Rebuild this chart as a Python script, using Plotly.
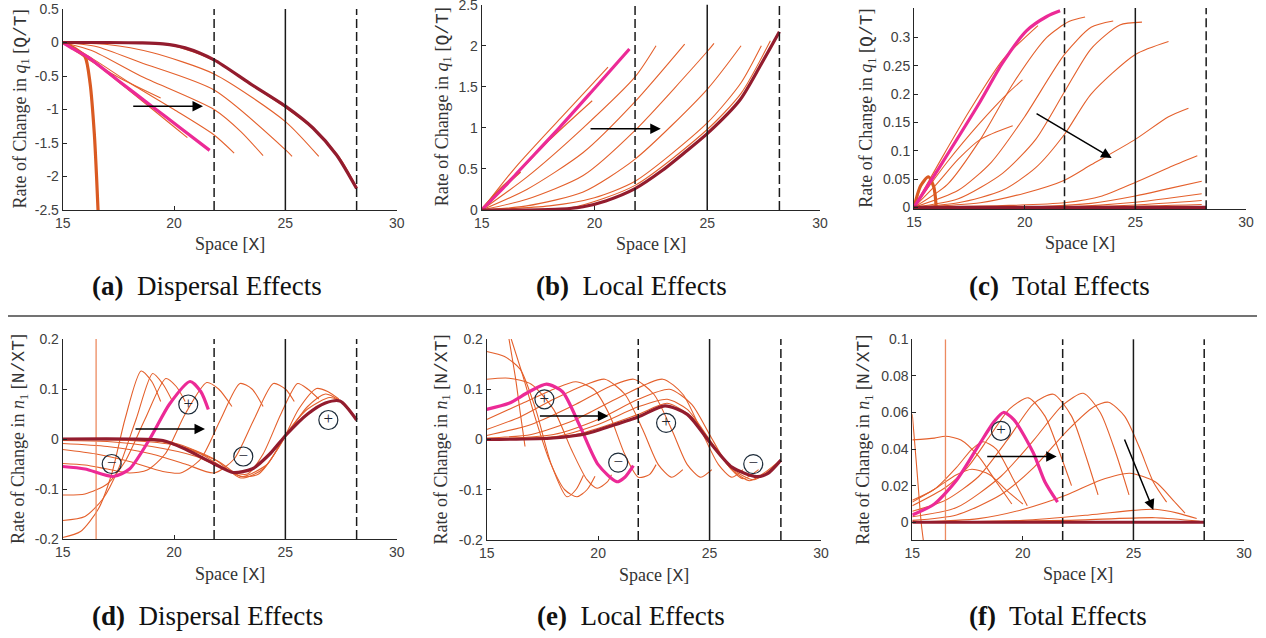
import plotly.graph_objects as go

# ---------------- DATA ----------------
REF_DASHED = [21.8, 28.2]
REF_SOLID = [25.0]

# (a) Dispersal effects, q1
A_DARK_X = [15, 17, 18.5, 19.5, 20.5, 21.8, 23.4, 25.0, 26.25, 27.3, 28.2]
A_DARK_Y = [0, 0, -0.005, -0.02, -0.08, -0.26, -0.61, -0.95, -1.28, -1.68, -2.18]
A_PINK_X = [15, 15.5, 16.1, 17.5, 19.0, 20.3, 21.6]
A_PINK_Y = [0, -0.1, -0.21, -0.57, -0.95, -1.28, -1.61]
A_THICK_X = [15, 15.5, 16.0, 16.23, 16.42, 16.52, 16.6]
A_THICK_Y = [0, -0.08, -0.21, -0.61, -1.36, -2.0, -2.6]
A_THIN_X = [
    [15, 16, 17.5, 19.4],
    [15, 16, 18, 20.6],
    [15, 16, 18, 20, 21.8, 22.7],
    [15, 16.3, 18.5, 21.8, 23.0, 24.0],
    [15, 16.5, 18.5, 21.8, 25.0, 25.3],
    [15, 17, 19, 21.8, 25.0, 26.5],
    [15, 18, 20, 21.8, 23.4, 25.0, 26.5, 27.5, 28.2],
]
A_THIN_Y = [
    [0, -0.22, -0.52, -0.83],
    [0, -0.2, -0.72, -1.42],
    [0, -0.17, -0.6, -1.0, -1.38, -1.65],
    [0, -0.12, -0.5, -1.0, -1.33, -1.69],
    [0, -0.06, -0.3, -0.71, -1.6, -1.7],
    [0, -0.03, -0.15, -0.47, -1.18, -1.7],
    [0, 0, -0.05, -0.27, -0.62, -0.97, -1.36, -1.75, -2.16],
]

# (b) Local effects, q1
B_DARK_X = [15, 17, 18.5, 19.5, 20.5, 21.8, 23.0, 24.0, 25.0, 26.45, 27.34, 28.2]
B_DARK_Y = [0, 0, 0.01, 0.04, 0.11, 0.26, 0.48, 0.7, 0.93, 1.34, 1.75, 2.17]
B_PINK_X = [15, 16.0, 16.7, 18.47, 20.0, 21.55]
B_PINK_Y = [0, 0.28, 0.49, 1.01, 1.48, 1.96]
B_THICK_X = [15, 15.8, 16.7]
B_THICK_Y = [0, 0.24, 0.47]
B_THIN_X = [
    [15, 16.5, 18.5, 20.6],
    [15, 16.5, 18, 19.9],
    [15, 17, 19.5, 21.8, 22.73],
    [15, 17, 19.5, 21.8, 24.0],
    [15, 17, 19.5, 21.8, 25.0, 25.3],
    [15, 17, 19.5, 21.8, 25.0, 26.5],
    [15, 18, 20, 21.8, 25.0, 26.5, 27.4],
    [15, 19, 21.8, 25.0, 26.5, 27.8],
]
B_THIN_Y = [
    [0, 0.52, 1.12, 1.74],
    [0, 0.42, 0.85, 1.33],
    [0, 0.4, 1.0, 1.62, 2.0],
    [0, 0.25, 0.7, 1.32, 2.02],
    [0, 0.13, 0.42, 0.97, 1.93, 2.03],
    [0, 0.05, 0.22, 0.62, 1.47, 2.0],
    [0, 0.05, 0.15, 0.35, 1.06, 1.55, 2.0],
    [0, 0.03, 0.3, 0.98, 1.42, 2.06],
]

# (c) Total effects, q1
C_DARK_X = [15, 20, 25, 28.2]
C_DARK_Y = [0, 0, 0, 0]
C_PINK_X = [15, 16.17, 17.98, 19.0, 20.09, 21.0, 21.6]
C_PINK_Y = [0, 0.072, 0.186, 0.255, 0.312, 0.337, 0.347]
C_THICK_X = [15, 15.3, 15.65, 15.9, 16.02]
C_THICK_Y = [0, 0.038, 0.054, 0.035, -0.011]
C_THIN_X = [
    [15, 16.3, 17.5, 19, 20.6],
    [15, 16.5, 18, 19.2, 19.9],
    [15, 16, 17, 18, 19.46],
    [15, 16.5, 18, 19.5, 21, 22, 22.73],
    [15, 17, 18.5, 20, 21.8, 23, 24],
    [15, 17, 19, 20.5, 21.8, 23, 24.3, 25.3],
    [15, 17, 19, 20.5, 21.8, 23, 25, 26.5],
    [15, 18, 20, 21.8, 23, 25, 26.5, 27.4],
    [15, 19, 21.8, 23.5, 25, 26.5, 27.8],
    [15, 21, 23, 25, 26.5, 28],
    [15, 22, 25, 26.5, 28],
    [15, 23, 25, 28],
    [15, 24, 28],
]
C_THIN_Y = [
    [0, 0.09, 0.17, 0.26, 0.321],
    [0, 0.08, 0.15, 0.2, 0.225],
    [0, 0.04, 0.085, 0.12, 0.144],
    [0, 0.04, 0.12, 0.22, 0.30, 0.328, 0.336],
    [0, 0.03, 0.08, 0.16, 0.27, 0.318, 0.329],
    [0, 0.015, 0.06, 0.12, 0.204, 0.28, 0.322, 0.327],
    [0, 0.008, 0.03, 0.07, 0.129, 0.2, 0.27, 0.293],
    [0, 0.008, 0.025, 0.048, 0.075, 0.12, 0.16, 0.175],
    [0, 0.003, 0.008, 0.02, 0.044, 0.07, 0.091],
    [0, 0.002, 0.007, 0.02, 0.033, 0.046],
    [0, 0.001, 0.009, 0.016, 0.024],
    [0, 0.001, 0.004, 0.012],
    [0, 0.001, 0.005],
]

# (d) Dispersal effects, n1
D_DARK_X = [15, 18, 19.5, 20.5, 21.77, 22.66, 23.5, 24.3, 25.03, 26.0, 26.8, 27.45, 28.2]
D_DARK_Y = [0, 0, -0.003, -0.02, -0.049, -0.067, -0.06, -0.03, 0.008, 0.05, 0.072, 0.076, 0.038]
D_PINK_X = [15, 16.0, 17.27, 18.0, 18.92, 19.8, 20.72, 21.2, 21.54]
D_PINK_Y = [-0.055, -0.06, -0.075, -0.06, 0.001, 0.07, 0.115, 0.095, 0.059]
D_VLINE_X = [16.5, 16.5]
D_VLINE_Y = [-0.2, 0.2]
D_THIN_X = [
    [15, 15.8, 16.6, 17.2, 17.8, 18.52, 19.0, 19.4],
    [15, 16, 16.8, 17.5, 18.3, 19.04, 19.5, 19.9],
    [15, 16, 17, 17.8, 18.7, 19.63, 20.1, 20.5],
    [15, 16, 17, 18, 18.8, 19.6, 20.5, 21.47, 22.0, 22.6],
    [15, 16.5, 18, 19.5, 20.3, 21.2, 22.1, 22.96, 23.5, 24.0],
    [15, 17, 19, 20.5, 21.8, 22.7, 23.6, 24.46, 25.0, 25.4],
    [15, 17, 19, 21, 22.5, 23.3, 24.0, 24.8, 25.55, 26.0, 26.5],
    [15, 18, 20, 22, 23.0, 23.8, 24.8, 25.6, 26.4, 26.9, 27.4],
    [15, 18, 20, 21.8, 23.0, 24.0, 25.0, 26.0, 26.8, 27.5, 28.2],
    [15, 19, 21, 22.5, 23.1, 24.2, 25.0, 26.0, 27.0, 27.6, 28.2],
]
D_THIN_Y = [
    [-0.197, -0.185, -0.14, -0.07, 0.04, 0.136, 0.115, 0.075],
    [-0.163, -0.155, -0.12, -0.06, 0.04, 0.131, 0.11, 0.078],
    [-0.112, -0.11, -0.09, -0.045, 0.04, 0.121, 0.105, 0.075],
    [-0.049, -0.052, -0.06, -0.068, -0.062, -0.03, 0.05, 0.113, 0.1, 0.065],
    [-0.021, -0.03, -0.045, -0.065, -0.068, -0.04, 0.04, 0.111, 0.1, 0.065],
    [-0.009, -0.015, -0.03, -0.05, -0.068, -0.04, 0.04, 0.111, 0.1, 0.075],
    [-0.003, -0.005, -0.015, -0.035, -0.065, -0.07, -0.03, 0.05, 0.111, 0.1, 0.08],
    [-0.001, -0.003, -0.012, -0.045, -0.075, -0.07, -0.01, 0.06, 0.101, 0.095, 0.08],
    [0, -0.001, -0.008, -0.04, -0.078, -0.06, 0.005, 0.065, 0.09, 0.075, 0.04],
    [0, -0.002, -0.025, -0.065, -0.075, -0.05, 0.008, 0.06, 0.083, 0.073, 0.04],
]

# (e) Local effects, n1
E_DARK_X = [15, 18, 19.5, 20.5, 21.8, 23.0, 24.0, 25.02, 26.0, 27.11, 27.6, 28.2]
E_DARK_Y = [0, 0.003, 0.012, 0.026, 0.045, 0.067, 0.05, -0.006, -0.055, -0.074, -0.068, -0.041]
E_PINK_X = [15, 16, 16.9, 17.69, 18.4, 19.19, 20.0, 20.83, 21.2, 21.58]
E_PINK_Y = [0.06, 0.072, 0.095, 0.11, 0.095, 0.026, -0.05, -0.084, -0.075, -0.052]
E_THIN_X = [
    [15, 15.8, 16.5, 17.2, 17.9, 18.6, 19.0, 19.34],
    [16.0, 16.3, 16.5, 16.72],
    [16.1, 16.6, 17.2, 17.8, 18.5, 19.05, 19.5, 19.86],
    [15, 16, 17, 18, 18.8, 19.5, 19.95, 20.4, 20.6],
    [15, 16.5, 18, 19, 19.8, 20.5, 21.2, 21.8, 22.3, 22.6],
    [15, 16.5, 18, 19.5, 20.3, 21.2, 22.0, 22.7, 23.3, 23.8],
    [15, 17, 19, 20.5, 21.6, 22.5, 23.3, 24.0, 24.6, 25.1],
    [15, 17, 19, 21, 22.9, 23.8, 24.6, 25.4, 26.0, 26.5],
    [15, 18, 20, 21.8, 23.2, 24.2, 25, 25.8, 26.5, 27.2],
    [15, 18, 20, 21.8, 23.1, 24, 25, 26, 26.8, 27.5, 28.2],
    [15, 19, 21.8, 23.1, 24.2, 25, 26, 27, 28.2],
]
E_THIN_Y = [
    [0.175, 0.165, 0.14, 0.06, -0.05, -0.114, -0.1, -0.071],
    [0.2, 0.12, 0.055, -0.014],
    [0.2, 0.13, 0.04, -0.04, -0.1, -0.114, -0.1, -0.073],
    [0.12, 0.122, 0.11, 0.06, -0.02, -0.08, -0.097, -0.085, -0.07],
    [0.04, 0.07, 0.1, 0.115, 0.1, 0.05, -0.03, -0.075, -0.07, -0.05],
    [0.02, 0.045, 0.08, 0.11, 0.12, 0.09, 0.02, -0.05, -0.075, -0.06],
    [0.008, 0.03, 0.07, 0.105, 0.12, 0.09, 0.02, -0.05, -0.075, -0.06],
    [0.003, 0.01, 0.04, 0.085, 0.12, 0.09, 0.02, -0.05, -0.075, -0.06],
    [0.001, 0.01, 0.04, 0.08, 0.1, 0.07, 0.01, -0.05, -0.078, -0.06],
    [0, 0.005, 0.03, 0.065, 0.08, 0.06, 0.0, -0.06, -0.082, -0.065, -0.04],
    [0, 0.01, 0.05, 0.072, 0.045, -0.002, -0.058, -0.08, -0.042],
]

# (f) Total effects, n1
F_DARK_X = [15, 20, 25, 28.2]
F_DARK_Y = [0, 0, 0, 0]
F_PINK_X = [15.0, 16.0, 17.0, 18.0, 18.7, 19.12, 19.6, 20.47, 21.0, 21.57]
F_PINK_Y = [0.004, 0.01, 0.023, 0.042, 0.055, 0.06, 0.056, 0.038, 0.022, 0.011]
F_VLINE_X = [16.5, 16.5]
F_VLINE_Y = [-0.01, 0.1]
F_STEEP_X = [15.0, 15.2, 15.4, 15.5]
F_STEEP_Y = [0.059, 0.03, 0.0, -0.01]
F_THIN_X = [
    [15, 16, 16.5, 17.2, 18, 18.8, 19.5],
    [15, 16, 17, 17.7, 18.2, 18.8, 19.5, 20.2],
    [15, 16, 17, 17.7, 18.5, 19.3, 20.0],
    [15, 16.5, 17.5, 18.5, 19.4, 20.25, 21.0, 21.6, 22.2],
    [15, 16.5, 18, 19.3, 20.5, 21.38, 22.2, 22.8, 23.4],
    [15, 17, 19, 20.5, 21.8, 22.73, 23.5, 24.2, 24.8],
    [15, 17, 19, 20.5, 22, 23.2, 23.87, 24.6, 25.3, 25.9, 26.5],
    [15, 18, 20, 22, 23.5, 24.84, 26, 26.8, 27.33],
    [15, 20, 23, 25, 25.98, 27, 27.86],
    [15, 22, 26, 28],
]
F_THIN_Y = [
    [0.045, 0.046, 0.047, 0.045, 0.036, 0.022, 0.01],
    [0.012, 0.018, 0.03, 0.04, 0.044, 0.04, 0.025, 0.009],
    [0.011, 0.018, 0.026, 0.029, 0.026, 0.017, 0.01],
    [0.009, 0.019, 0.03, 0.047, 0.062, 0.068, 0.058, 0.04, 0.02],
    [0.006, 0.012, 0.025, 0.045, 0.065, 0.07, 0.058, 0.038, 0.015],
    [0.003, 0.008, 0.025, 0.045, 0.064, 0.0705, 0.06, 0.038, 0.015],
    [0.001, 0.004, 0.015, 0.03, 0.05, 0.063, 0.0656, 0.058, 0.04, 0.022, 0.011],
    [0, 0.002, 0.007, 0.015, 0.023, 0.0268, 0.022, 0.012, 0.005],
    [0, 0.001, 0.004, 0.0065, 0.0071, 0.005, 0.002],
    [0, 0.001, 0.0025, 0.0005],
]

# Arrows: (tail_x, tail_y, head_x, head_y)
A_ARROWS = [(18.1, -0.95, 21.3, -0.95)]
B_ARROWS = [(19.76, 0.99, 22.94, 0.99)]
C_ARROWS = [(20.47, 0.167, 23.93, 0.087)]
D_ARROWS = [(18.2, 0.02, 21.39, 0.02)]
E_ARROWS = [(17.32, 0.047, 20.46, 0.047)]
F_ARROWS = [(18.32, 0.036, 21.53, 0.036), (24.57, 0.046, 25.9, 0.0067)]

# Circled signs
D_SIGNS_X = [17.2, 20.64, 23.11, 26.93]
D_SIGNS_Y = [-0.05, 0.069, -0.035, 0.038]
D_SIGNS_T = ["−", "+", "−", "+"]
E_SIGNS_X = [17.59, 20.9, 23.05, 26.96]
E_SIGNS_Y = [0.08, -0.046, 0.033, -0.049]
E_SIGNS_T = ["+", "−", "+", "−"]
F_SIGNS_X = [19.01]
F_SIGNS_Y = [0.05]
F_SIGNS_T = ["+"]

# Tick labels
A_TICKS = [0.5, 0, -0.5, -1, -1.5, -2, -2.5]
A_TICKTEXT = ["0.5", "0", "-0.5", "-1", "-1.5", "-2", "-2.5"]
B_TICKS = [0, 0.5, 1, 1.5, 2, 2.5]
B_TICKTEXT = ["0", "0.5", "1", "1.5", "2", "2.5"]
C_TICKS = [0, 0.05, 0.1, 0.15, 0.2, 0.25, 0.3]
C_TICKTEXT = ["0", "0.05", "0.1", "0.15", "0.2", "0.25", "0.3"]
DE_TICKS = [-0.2, -0.1, 0, 0.1, 0.2]
DE_TICKTEXT = ["-0.2", "-0.1", "0", "0.1", "0.2"]
F_TICKS = [0, 0.02, 0.04, 0.06, 0.08, 0.1]
F_TICKTEXT = ["0", "0.02", "0.04", "0.06", "0.08", "0.1"]
X_TICKS = [15, 20, 25, 30]
X_TICKTEXT = ["15", "20", "25", "30"]

CAPTIONS = [("a", "Dispersal Effects"), ("b", "Local Effects"), ("c", "Total Effects"),
            ("d", "Dispersal Effects"), ("e", "Local Effects"), ("f", "Total Effects")]

# ---------------- STYLE / LAYOUT ----------------
W, H = 1266, 638
THIN = "#E4602C"
THICK_OR = "#DA5A22"
PINK = "#EC2A96"
DARK = "#931C2E"
VLIGHT = "#EC8A60"
AXC = "#262626"
SERIF = "Liberation Serif"
SANS = "Liberation Sans"

# pixel boxes: left, right, top, bottom
BOXES = [
    (62.7, 396.7, 9.0, 210.0),
    (481.7, 820.0, 4.7, 210.0),
    (914.0, 1246.0, 8.0, 209.3),
    (62.7, 396.7, 339.0, 539.0),
    (486.7, 821.0, 339.0, 540.0),
    (912.3, 1244.0, 339.3, 540.0),
]
YRANGES = [[-2.5, 0.5], [0, 2.5], [-0.0035, 0.352], [-0.2, 0.2], [-0.2, 0.2], [-0.0097, 0.1]]
YTICKS = [(A_TICKS, A_TICKTEXT), (B_TICKS, B_TICKTEXT), (C_TICKS, C_TICKTEXT),
          (DE_TICKS, DE_TICKTEXT), (DE_TICKS, DE_TICKTEXT), (F_TICKS, F_TICKTEXT)]
YTITLE_X = [21, 443, 868, 19, 442, 865]
XTITLE_Y = [244, 244, 243, 574, 575, 574]
CAPTION_POS = [(207, 286), (631, 286), (1059, 286), (207, 616), (631, 616), (1058, 616)]
YUNITS = ["Q/T", "Q/T", "Q/T", "N/XT", "N/XT", "N/XT"]
YVAR = ["q", "q", "q", "n", "n", "n"]

fig = go.Figure()


def axn(i):
    return "" if i == 0 else str(i + 1)


def add_line(i, xs, ys, color, width, opacity=1.0):
    fig.add_trace(go.Scatter(
        x=xs, y=ys, mode="lines", line=dict(color=color, width=width, shape="spline", smoothing=0.7),
        opacity=opacity, xaxis="x" + axn(i), yaxis="y" + axn(i), showlegend=False, hoverinfo="skip"))


def add_signs(i, xs, ys, ts):
    fig.add_trace(go.Scatter(
        x=xs, y=ys, mode="markers+text", text=ts, textposition="middle center",
        textfont=dict(family=SERIF, size=17, color="#1c2633"),
        marker=dict(symbol="circle-open", size=19, color="#1c2b39", line=dict(width=1.2)),
        xaxis="x" + axn(i), yaxis="y" + axn(i), showlegend=False, hoverinfo="skip"))


panels = [
    (A_THIN_X, A_THIN_Y, [(A_THICK_X, A_THICK_Y, THICK_OR, 3.2)], A_PINK_X, A_PINK_Y, A_DARK_X, A_DARK_Y),
    (B_THIN_X, B_THIN_Y, [(B_THICK_X, B_THICK_Y, THICK_OR, 3.2)], B_PINK_X, B_PINK_Y, B_DARK_X, B_DARK_Y),
    (C_THIN_X, C_THIN_Y, [(C_THICK_X, C_THICK_Y, THICK_OR, 3.2)], C_PINK_X, C_PINK_Y, C_DARK_X, C_DARK_Y),
    (D_THIN_X, D_THIN_Y, [(D_VLINE_X, D_VLINE_Y, VLIGHT, 1.3)], D_PINK_X, D_PINK_Y, D_DARK_X, D_DARK_Y),
    (E_THIN_X, E_THIN_Y, [], E_PINK_X, E_PINK_Y, E_DARK_X, E_DARK_Y),
    (F_THIN_X, F_THIN_Y, [(F_VLINE_X, F_VLINE_Y, VLIGHT, 1.3), (F_STEEP_X, F_STEEP_Y, THIN, 1.1)],
     F_PINK_X, F_PINK_Y, F_DARK_X, F_DARK_Y),
]

for i, (tx, ty, extras, px, py, dx, dy) in enumerate(panels):
    for xs, ys in zip(tx, ty):
        add_line(i, xs, ys, THIN, 1.1)
    for xs, ys, c, w in extras:
        add_line(i, xs, ys, c, w)
    add_line(i, px, py, PINK, 3.2)
    add_line(i, dx, dy, DARK, 3.2)

add_signs(3, D_SIGNS_X, D_SIGNS_Y, D_SIGNS_T)
add_signs(4, E_SIGNS_X, E_SIGNS_Y, E_SIGNS_T)
add_signs(5, F_SIGNS_X, F_SIGNS_Y, F_SIGNS_T)

layout = dict(width=W, height=H, margin=dict(l=0, r=0, t=0, b=0, pad=0, autoexpand=False),
              paper_bgcolor="white", plot_bgcolor="white", showlegend=False)
shapes = []
annotations = []

for i, (l, r, t, b) in enumerate(BOXES):
    n = axn(i)
    layout["xaxis" + n] = dict(
        domain=[l / W, r / W], range=[15, 30], anchor="y" + n, automargin=False,
        tickvals=X_TICKS, ticktext=X_TICKTEXT, ticks="inside", ticklen=4, tickcolor=AXC,
        showline=True, linecolor=AXC, linewidth=1, showgrid=False, zeroline=False,
        ticklabeloverflow="allow",
        tickfont=dict(family=SANS, size=14, color="#404040"))
    tv, tt = YTICKS[i]
    layout["yaxis" + n] = dict(
        domain=[1 - b / H, 1 - t / H], range=YRANGES[i], anchor="x" + n, automargin=False,
        tickvals=tv, ticktext=tt, ticks="inside", ticklen=4, tickcolor=AXC,
        showline=True, linecolor=AXC, linewidth=1, showgrid=False, zeroline=False,
        ticklabeloverflow="allow",
        tickfont=dict(family=SANS, size=14, color="#404040"))
    xr = "x" + n
    for xv in REF_DASHED:
        shapes.append(dict(type="line", xref=xr, yref="y" + n + " domain", x0=xv, x1=xv, y0=0, y1=1,
                           line=dict(color="#1a1a1a", width=1.5, dash="9px,4px")))
    for xv in REF_SOLID:
        shapes.append(dict(type="line", xref=xr, yref="y" + n + " domain", x0=xv, x1=xv, y0=0, y1=1,
                           line=dict(color="#1a1a1a", width=1.5)))
    ytxt = ("Rate of Change in <i>%s</i><sub>1</sub> [<span style='font-family:Liberation Mono'>%s</span>]"
            % (YVAR[i], YUNITS[i]))
    annotations.append(dict(text=ytxt, xref="paper", yref="paper", x=YTITLE_X[i] / W,
                            y=1 - ((t + b) / 2) / H, textangle=-90, showarrow=False,
                            xanchor="center", yanchor="middle",
                            font=dict(family=SERIF, size=18, color="#333333")))
    annotations.append(dict(text="Space [<span style='font-family:Liberation Mono'>X</span>]",
                            xref="paper", yref="paper", x=((l + r) / 2) / W, y=1 - XTITLE_Y[i] / H,
                            showarrow=False, xanchor="center", yanchor="middle",
                            font=dict(family=SERIF, size=18, color="#333333")))
    letter, label = CAPTIONS[i]
    cx, cy = CAPTION_POS[i]
    annotations.append(dict(text="<b>(%s)</b>&nbsp; %s" % (letter, label), xref="paper", yref="paper",
                            x=cx / W, y=1 - cy / H, showarrow=False, xanchor="center", yanchor="middle",
                            font=dict(family=SERIF, size=27, color="#111111")))

ARROWS = [A_ARROWS, B_ARROWS, C_ARROWS, D_ARROWS, E_ARROWS, F_ARROWS]
for i, arrs in enumerate(ARROWS):
    n = axn(i)
    for (x0, y0, x1, y1) in arrs:
        annotations.append(dict(x=x1, y=y1, ax=x0, ay=y0, xref="x" + n, yref="y" + n,
                                axref="x" + n, ayref="y" + n, showarrow=True, text="",
                                arrowhead=2, arrowsize=1.4, arrowwidth=1.5, arrowcolor="black"))

shapes.append(dict(type="line", xref="paper", yref="paper", x0=8 / W, x1=1257 / W,
                   y0=1 - 316 / H, y1=1 - 316 / H, line=dict(color="#444444", width=1.5)))

layout["shapes"] = shapes
layout["annotations"] = annotations
fig.update_layout(**layout)
fig.write_html("out.html",
               config={"displayModeBar": False},
               post_script="document.body.style.margin='0';document.body.style.padding='0';"
                           "document.body.style.overflow='hidden';")
